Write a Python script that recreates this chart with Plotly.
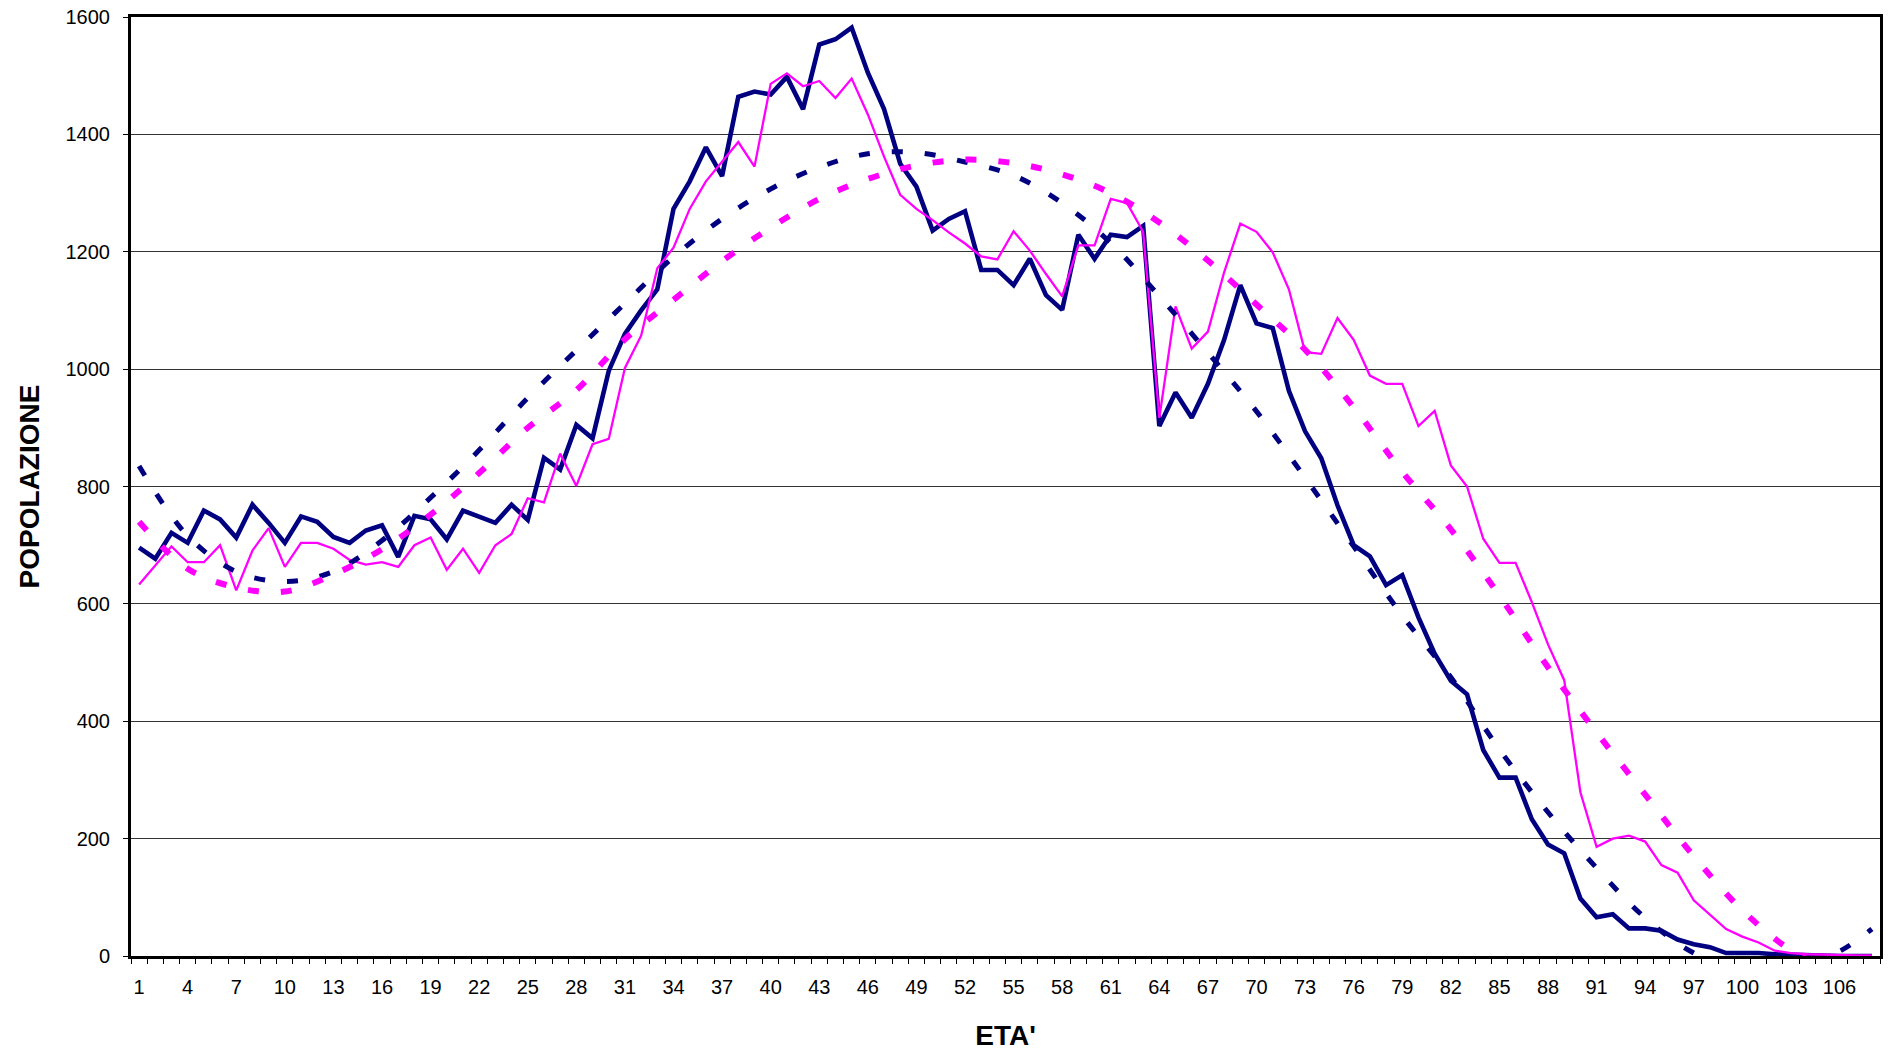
import plotly.graph_objects as go

# ---- data ----
ages = list(range(1, 109))

pop_blue = [696, 677, 721, 704, 759, 744, 713, 769, 738, 704,
            749, 740, 714, 704, 725, 734, 680, 750, 744, 710,
            759, 749, 738, 769, 743, 849, 829, 905, 882, 997,
            1060, 1100, 1136, 1273, 1320, 1378, 1329, 1464, 1473, 1468,
            1498, 1443, 1553, 1562, 1582, 1505, 1443, 1350, 1311, 1236,
            1256, 1269, 1169, 1169, 1143, 1188, 1126, 1101, 1229, 1188,
            1229, 1225, 1244, 903, 960, 917, 975, 1050, 1143, 1078,
            1070, 963, 894, 848, 768, 700, 681, 632, 649, 577,
            515, 469, 446, 351, 304, 304, 233, 190, 175, 98,
            66, 71, 47, 47, 43, 28, 20, 15, 5, 5,
            5, 3, 2, 1, 1, 0, 0, 0]

pop_magenta = [633, 666, 698, 671, 671, 700, 623, 691, 729, 663,
               704, 704, 694, 675, 667, 671, 663, 700, 713, 658,
               694, 653, 700, 719, 780, 773, 856, 801, 872, 881,
               1002, 1057, 1172, 1207, 1273, 1320, 1353, 1387, 1345, 1486,
               1504, 1482, 1491, 1462, 1495, 1434, 1362, 1297, 1273, 1254,
               1233, 1214, 1192, 1187, 1235, 1202, 1162, 1124, 1211, 1211,
               1290, 1283, 1234, 917, 1107, 1035, 1064, 1165, 1248, 1234,
               1199, 1136, 1029, 1026, 1087, 1050, 989, 975, 975, 903,
               929, 836, 800, 711, 670, 670, 603, 531, 470, 279,
               186, 200, 205, 195, 155, 142, 95, 70, 46, 33,
               23, 9, 5, 3, 2, 1, 1, 1]

trend_ages = [1, 4, 7, 10, 13, 16, 19, 22, 25, 28, 31, 34, 37, 40, 43, 46, 49,
              52, 55, 58, 61, 64, 67, 70, 73, 76, 79, 82, 85, 88, 91, 94, 97,
              100, 103, 106, 108]

trend_blue = [835, 716, 655, 638, 655, 708, 781, 862, 951, 1032, 1112, 1191,
              1256, 1307, 1344, 1367, 1369, 1353, 1330, 1283, 1215, 1124, 1028,
              928, 815, 698, 580, 475, 352, 245, 150, 65, 5, -25, -22, 8, 46]

trend_magenta = [740, 660, 628, 621, 650, 693, 752, 823, 900, 964, 1051, 1118,
                 1184, 1241, 1290, 1324, 1347, 1357, 1351, 1332, 1300, 1250,
                 1185, 1110, 1033, 935, 825, 727, 614, 492, 381, 275, 170, 78,
                 10, -28, -30]

tick_ages = list(range(1, 107, 3))
tick_labels = [str(a) for a in tick_ages]

NAVY = "#000080"
MAGENTA = "#FF00FF"
FONT = "Liberation Sans, Arial, sans-serif"

fig = go.Figure()
fig.add_trace(go.Scatter(x=ages, y=pop_blue, mode="lines",
                         line=dict(color=NAVY, width=4.6), showlegend=False))
fig.add_trace(go.Scatter(x=ages, y=pop_magenta, mode="lines",
                         line=dict(color=MAGENTA, width=2.3), showlegend=False))
fig.add_trace(go.Scatter(x=trend_ages, y=trend_blue, mode="lines",
                         line=dict(color=NAVY, width=5, dash="11px,22px",
                                   shape="spline"), showlegend=False))
fig.add_trace(go.Scatter(x=trend_ages, y=trend_magenta, mode="lines",
                         line=dict(color=MAGENTA, width=6, dash="11px,22px",
                                   shape="spline"), showlegend=False))

fig.update_layout(
    width=1892, height=1051,
    margin=dict(l=131, r=12, t=17, b=95),
    paper_bgcolor="white", plot_bgcolor="white",
    font=dict(family=FONT, size=20, color="black"),
)

fig.update_xaxes(
    automargin=False,
    range=[0.5, 108.5],
    tickmode="array", tickvals=tick_ages, ticktext=tick_labels,
    ticks="outside", ticklen=5, tickcolor="rgba(0,0,0,0)",
    ticklabelstandoff=6,
    minor=dict(tickmode="linear", tick0=0.5, dtick=1, ticks="outside",
               ticklen=5, tickcolor="black", tickwidth=1, showgrid=False),
    showgrid=False, zeroline=False,
    showline=True, linecolor="black", linewidth=3, mirror=True,
    tickfont=dict(family=FONT, size=20, color="black"),
    title=dict(text="<b>ETA'</b>", font=dict(family=FONT, size=28, color="black"),
               standoff=30),
)

fig.update_yaxes(
    automargin=False,
    range=[0, 1600], tickmode="linear", tick0=0, dtick=200,
    ticks="outside", ticklen=5, tickcolor="black", tickwidth=1,
    ticklabelstandoff=9,
    showgrid=True, gridcolor="#333333", gridwidth=1.4, zeroline=False,
    showline=True, linecolor="black", linewidth=3, mirror=True,
    tickfont=dict(family=FONT, size=20, color="black"),
    title=dict(text="<b>POPOLAZIONE</b>", font=dict(family=FONT, size=28, color="black"),
               standoff=18),
)

fig.write_html("out.html", config={"displayModeBar": False},
               post_script="document.body.style.margin='0';document.body.style.overflow='hidden';")
